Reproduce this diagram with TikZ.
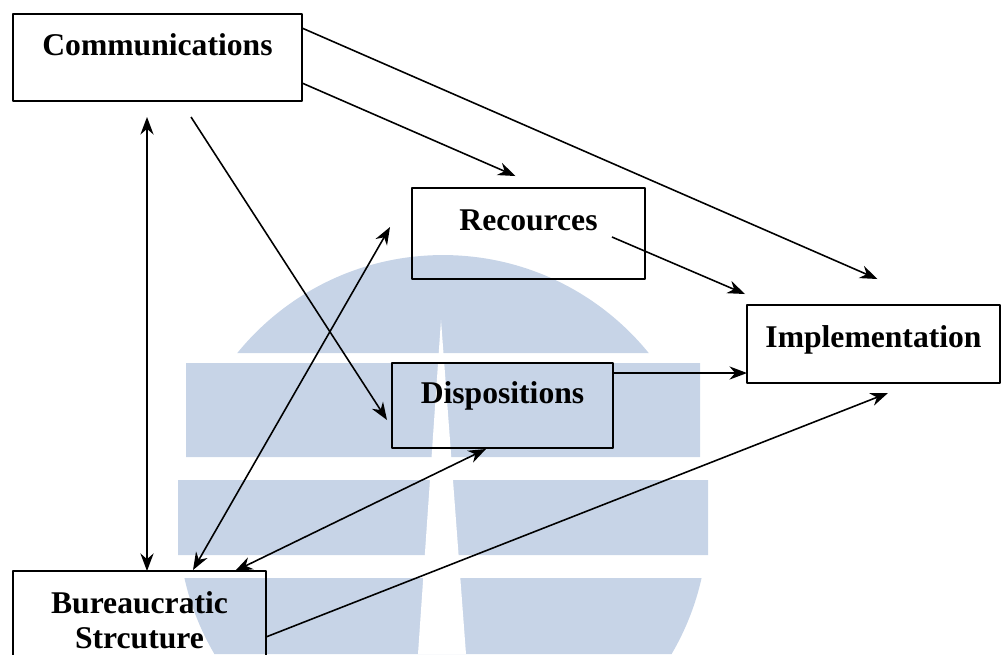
\documentclass[tikz,border=0pt]{standalone}
\usepackage{fontspec}
\setmainfont{Liberation Serif}
\usetikzlibrary{arrows.meta,calc}
\definecolor{wmblue}{RGB}{199,212,231}
\begin{document}
\begin{tikzpicture}[x=0.02cm,y=-0.02cm,line join=round,>={Stealth[length=10pt,width=7.5pt]},line width=.9pt]
	\tikzset{frame/.style={draw,line width=1.1pt,inner sep=0pt,outer sep=0pt,font=\fontsize{18}{20}\selectfont\bfseries},
		tbox/.style={frame,text height=.7em,text depth=#1},tbox/.default=9.5pt}
	\useasboundingbox (0,0) rectangle (1002,654);
	% watermark
	\begin{scope}
		\clip (0,0) rectangle (1002,353) (0,578) rectangle (1002,654);
		\fill[wmblue] (443,520) circle [radius=5.3cm];
	\end{scope}
	\fill[wmblue] (186,363) rectangle (700,457) (178,480) rectangle (708,555);
	\fill[white] (441,320) -- (466,654) -- (418,654) -- cycle;
	% boxes
	\node[tbox,minimum width=5.78cm,minimum height=1.74cm] (comm) at (157.5,57.5) {Communications};
	\node[tbox=10.5pt,minimum width=4.66cm,minimum height=1.82cm] (rec) at (528.5,233.5) {Recources};
	\node[tbox=3.5pt,minimum width=5.06cm,minimum height=1.56cm] (impl) at (873.5,344) {Implementation};
	\node[tbox,minimum width=4.42cm,minimum height=1.70cm] (disp) at (502.5,405.5) {Dispositions};
	\node[frame,align=center,minimum width=5.06cm,minimum height=1.98cm] (bur) at (139.5,620.5) {Bureaucratic\\Strcuture};
	% arrows
	\draw[->] ($(comm.north east)+(0,14)$) -- ($(impl.north)+(4,-26)$);
	\draw[->] ($(comm.south east)+(0,-18)$) -- ($(rec.north)+(-13,-12)$);
	\draw[->] ($(comm.south)+(33.5,16)$) -- ($(disp.west)+(-5,14.5)$);
	\draw[<->] ($(comm.south)+(-10.5,16)$) -- ($(bur.north)+(7.5,0)$);
	\draw[<->] ($(rec.west)+(-22,-6.5)$) -- ($(bur.north)+(53.5,-1)$);
	\draw[<->] ($(disp.south)+(-16.5,1)$) -- ($(bur.north)+(95.5,0)$);
	\draw[->] ($(bur.east)+(0,16.5)$) -- ($(impl.south)+(14.5,10)$);
	\draw[->] ($(rec.east)+(-33,3.5)$) -- ($(impl.north west)+(-2,-11)$);
	\draw[->] ($(disp.north east)+(0,10)$) coordinate (d1) -- (d1 -| impl.west);
\end{tikzpicture}
\end{document}
